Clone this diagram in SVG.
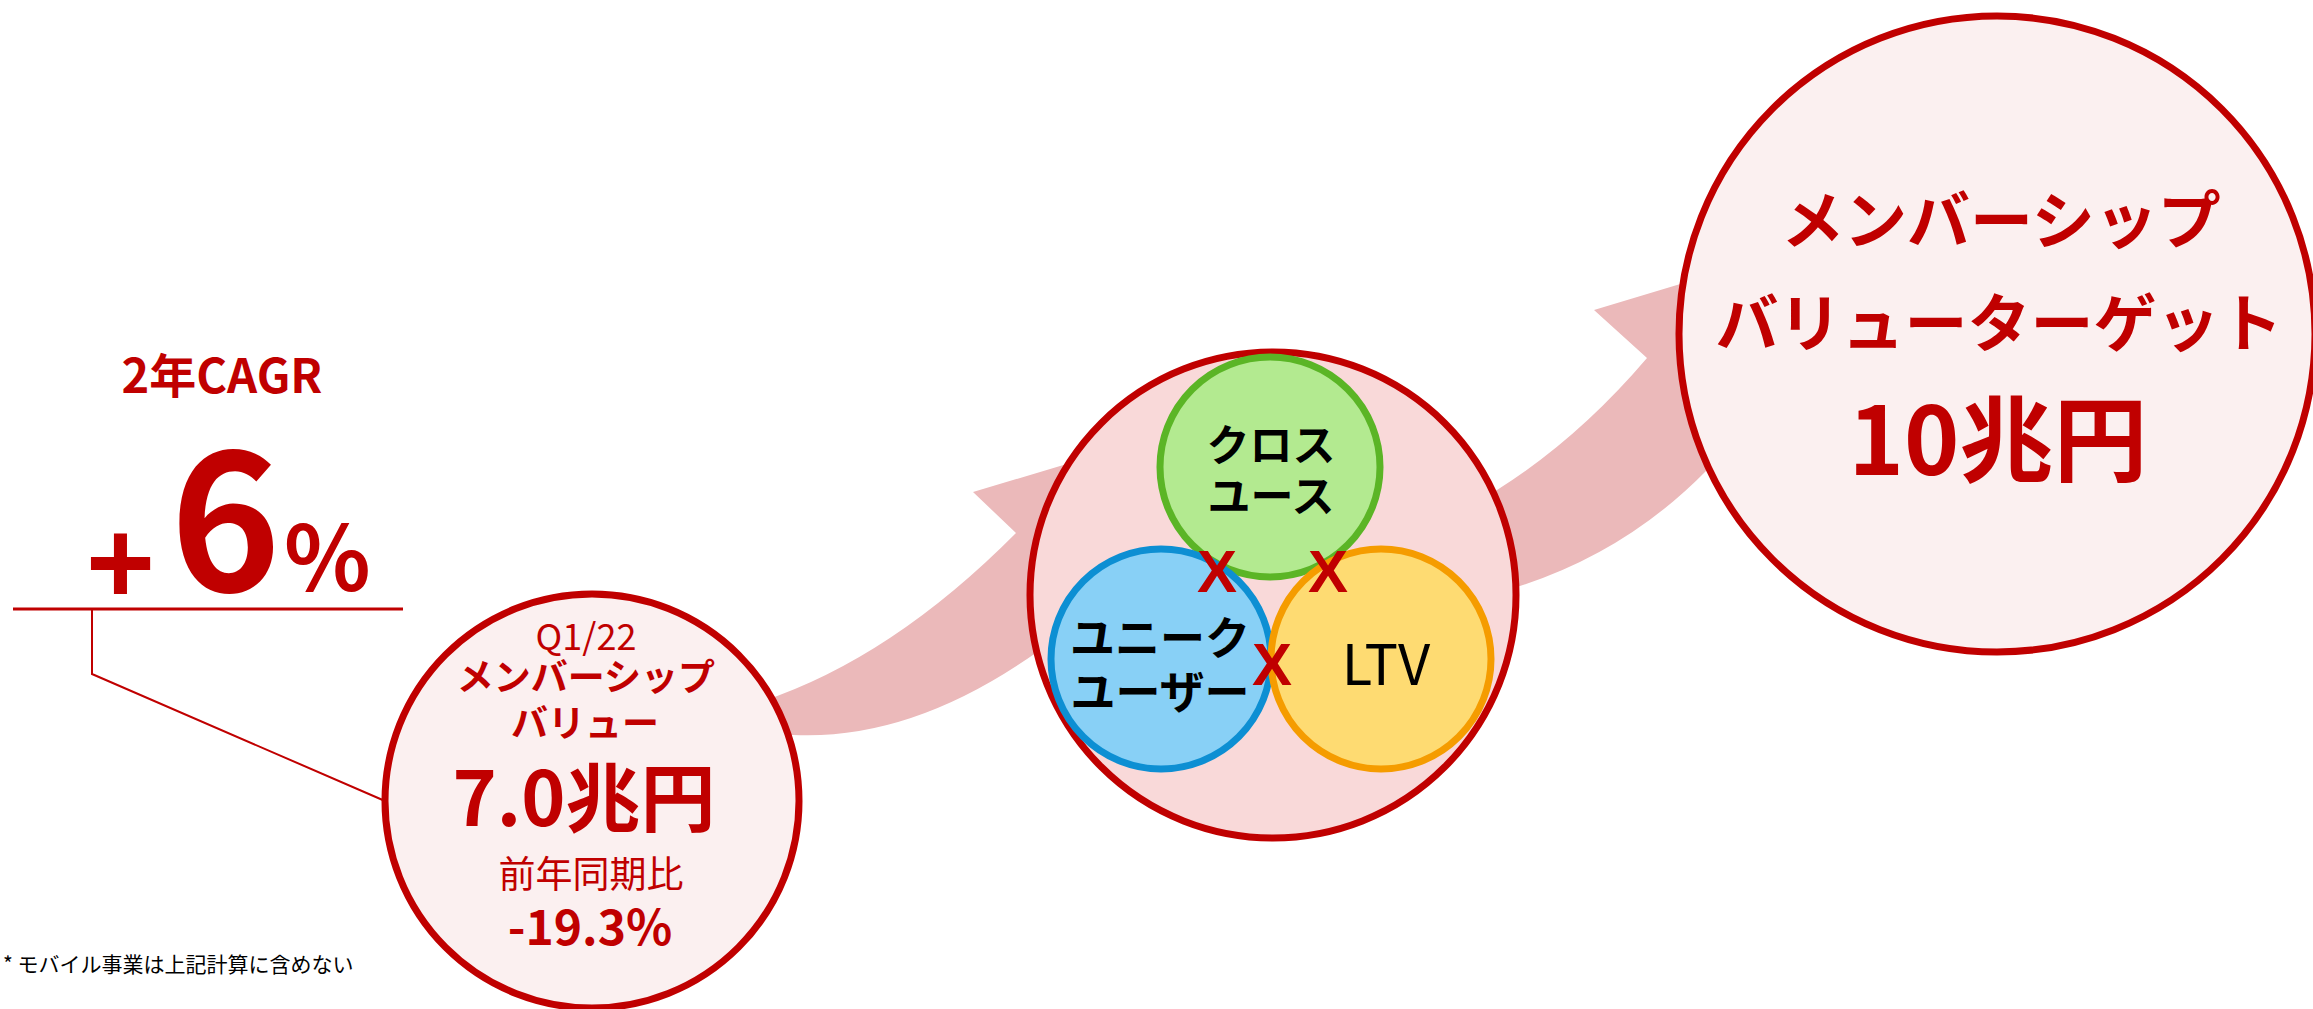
<svg xmlns="http://www.w3.org/2000/svg" width="2313" height="1009" viewBox="0 0 2313 1009">
  <style>
    text { font-family: "Noto Sans CJK JP", "Noto Sans", sans-serif; }
    .red { fill: #C00000; }
    .blk { fill: #000000; }
    .b { font-weight: bold; }
    .mid { text-anchor: middle; }
    .band { fill: #EBB9BA; stroke: none; }
    .bubble { fill: #FBF0F0; stroke: #C00000; stroke-width: 7; }
    .line { fill: none; stroke: #C00000; }
    .xmark { font-family: "Liberation Sans", Arial, sans-serif; font-weight: bold; font-size: 60px; fill: #C00000; text-anchor: middle; }
  </style>

  <g id="connectors">
    <path class="band" d="M 760,702 Q 891,659 1016,533 L 973,492 L 1130,445 L 1100,620 L 1040,650 Q 913,741 793,735 L 760,738 Z"/>
    <path class="band" d="M 1470,505 L 1497,490 Q 1578,439 1647,358 L 1594,310 L 1760,260 L 1760,450 L 1707,470 Q 1623,556 1507,590 L 1480,600 Z"/>
    <line class="line" x1="13" y1="609" x2="403" y2="609" stroke-width="3"/>
    <polyline class="line" points="92,609 92,674 385,801" stroke-width="2"/>
  </g>

  <g id="cagr">
    <text class="red b mid" x="222" y="393" font-size="47">2年CAGR</text>
    <text class="red b"><tspan x="86" y="603" font-size="118" font-family="Liberation Sans, Arial, sans-serif">+</tspan><tspan x="170" y="591" font-size="188">6</tspan><tspan x="284" y="591" font-size="90">%</tspan></text>
  </g>

  <g id="q122-circle">
    <circle class="bubble" cx="592" cy="801" r="207" stroke-width="6.5"/>
    <text class="red mid" x="586" y="650" font-size="36">Q1/22</text>
    <text class="red b mid" x="586" y="691" font-size="37">メンバーシップ</text>
    <text class="red b mid" x="585" y="737" font-size="37">バリュー</text>
    <text class="red b mid" x="584" y="826" font-size="75">7.0兆円</text>
    <text class="red mid" x="591" y="888" font-size="37">前年同期比</text>
    <text class="red b mid" x="590" y="945" font-size="48">-19.3%</text>
  </g>

  <g id="middle-circle">
    <circle cx="1273" cy="595" r="243" fill="#F9D9D9" stroke="#C00000" stroke-width="7"/>
  </g>

  <g id="cross-use">
    <circle cx="1270" cy="467" r="110" fill="#B3EA90" stroke="#5BB526" stroke-width="7"/>
    <text class="blk b mid" x="1271" y="461" font-size="43">クロス</text>
    <text class="blk b mid" x="1271" y="512" font-size="43">ユース</text>
  </g>

  <g id="unique-users">
    <circle cx="1161" cy="659" r="110" fill="#88D0F6" stroke="#0D8FD3" stroke-width="7"/>
    <text class="blk b mid" x="1160" y="655" font-size="45">ユニーク</text>
    <text class="blk b mid" x="1160" y="709" font-size="45">ユーザー</text>
  </g>

  <g id="ltv">
    <circle cx="1381" cy="659" r="110" fill="#FEDB72" stroke="#F59C00" stroke-width="7"/>
    <text class="blk mid" x="1386" y="685" font-size="56">LTV</text>
  </g>

  <g id="cross-marks">
    <text class="xmark" x="1217" y="592">X</text>
    <text class="xmark" x="1328" y="592">X</text>
    <text class="xmark" x="1272" y="685">X</text>
  </g>

  <g id="target-circle">
    <circle class="bubble" cx="1997" cy="334" r="318"/>
    <text class="red b mid" x="2001" y="243" font-size="63">メンバーシップ</text>
    <text class="red b mid" x="1999" y="346" font-size="63">バリューターゲット</text>
    <text class="red b mid" x="1998" y="475" font-size="94">10兆円</text>
  </g>

  <g id="footnote">
    <text class="blk" x="3" y="972" font-size="21">* モバイル事業は上記計算に含めない</text>
  </g>
</svg>
